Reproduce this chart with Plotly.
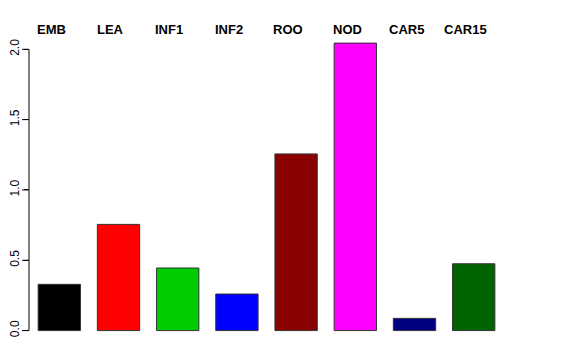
import plotly.graph_objects as go

categories = ["EMB", "LEA", "INF1", "INF2", "ROO", "NOD", "CAR5", "CAR15"]
values = [0.329, 0.755, 0.445, 0.26, 1.256, 2.044, 0.087, 0.475]
colors = ["#000000", "#FF0000", "#00CD00", "#0000FF", "#8B0000", "#FF00FF", "#000080", "#006400"]
tick_vals = [0.0, 0.5, 1.0, 1.5, 2.0]
tick_text = ["0.0", "0.5", "1.0", "1.5", "2.0"]

xpos = list(range(len(categories)))
font_family = "Liberation Sans, Arial, Helvetica, sans-serif"

W, H = 576, 360
ML, MR, MT, MB = 21, 18, 23, 36
plot_w = W - ML - MR

fig = go.Figure()
fig.add_trace(go.Bar(
    x=xpos, y=values,
    marker=dict(color=colors, line=dict(color="#333333", width=1)),
    showlegend=False, hoverinfo="skip",
))

annotations = []
for i, c in enumerate(categories):
    annotations.append(dict(
        x=i - 0.14, xref="x", y=1, yref="paper", text="<b>" + c + "</b>",
        showarrow=False, xanchor="center", yanchor="middle", yshift=2,
        font=dict(family=font_family, size=13, color="black"),
    ))

shapes = [dict(type="line", xref="paper", yref="y", x0=0, x1=0,
               y0=tick_vals[0], y1=tick_vals[-1], line=dict(color="black", width=1))]
for tv in tick_vals:
    shapes.append(dict(type="line", xref="paper", yref="y", x0=-7.0 / plot_w, x1=0,
                       y0=tv, y1=tv, line=dict(color="black", width=1)))

fig.update_layout(
    width=W, height=H,
    margin=dict(l=ML, r=MR, t=MT, b=MB, autoexpand=False),
    paper_bgcolor="white", plot_bgcolor="white",
    bargap=0.285,
    annotations=annotations,
    xaxis=dict(range=[-0.512, 8.559], visible=False, fixedrange=True, automargin=False),
    yaxis=dict(
        range=[-0.01, 2.13], showgrid=False, zeroline=False, showline=False,
        automargin=False,
        tickmode="array", tickvals=tick_vals, ticktext=tick_text,
        ticks="outside", ticklen=4, tickwidth=1, tickcolor="black",
        tickangle=-90, ticklabelstandoff=0,
        tickfont=dict(family=font_family, size=12, color="black"),
    ),
    shapes=shapes,
)

fig.write_html("out.html")
